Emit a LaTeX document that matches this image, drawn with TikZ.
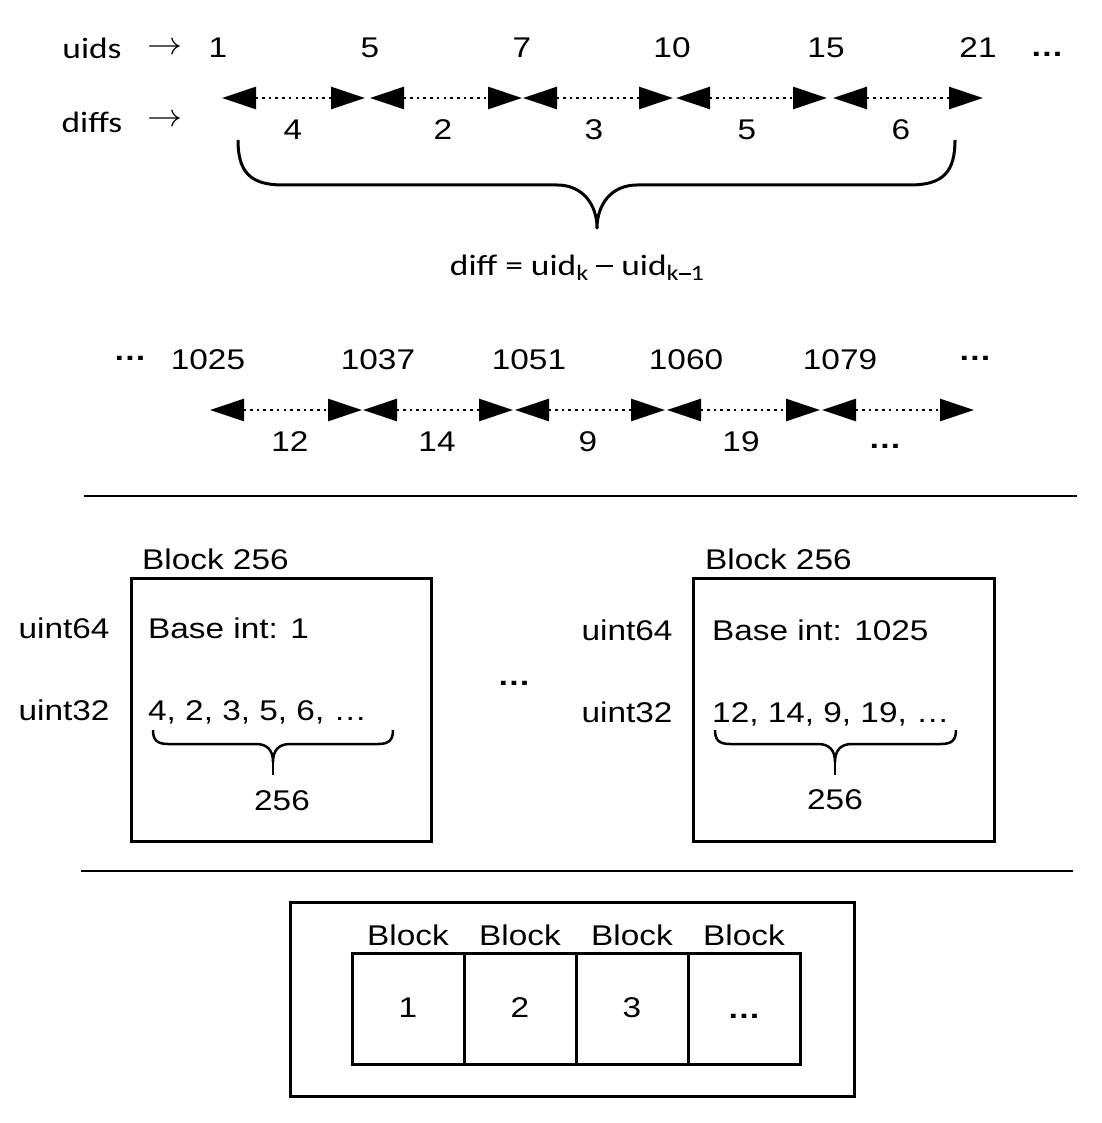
\documentclass[tikz,border=0pt]{standalone}
\usepackage{fontspec}
\setmainfont{Liberation Sans}[FakeStretch=1.17]
\newfontfamily\calfont{Carlito}[FakeStretch=1.2]
\usetikzlibrary{arrows.meta}
\newcommand\mysub[1]{\raisebox{-5pt}{\fontsize{22}{22}\selectfont #1}}
\newcommand\mydash{\rule[8pt]{17pt}{2.2pt}}
\newcommand\mysubdash{\rule[5.5pt]{12pt}{1.7pt}}
\begin{document}
\begin{tikzpicture}[x=1pt,y=-1pt,
  txt/.style={inner sep=0pt, anchor=base, font=\fontsize{28.5}{32}\selectfont},
  ltxt/.style={txt, anchor=base west},
  caltxt/.style={inner sep=0pt, anchor=base, font=\calfont\fontsize{29.5}{34}\selectfont},
  dotstxt/.style={inner sep=0pt, anchor=base, font=\bfseries\fontsize{28.5}{32}\selectfont},
  rarrow/.style={inner sep=0pt, anchor=center},
  tri/.tip={Triangle[length=34pt,width=22pt]},
  diffarrow/.style={line width=2.6pt, dash pattern=on 2.6pt off 4.1pt, tri-tri},
  box/.style={draw, line width=3pt, inner sep=0pt, rectangle},
  bigbrace/.style={line width=3pt, line join=round},
  smallbrace/.style={line width=2.5pt, line join=round},
  sepline/.style={line width=1.5pt}]
\useasboundingbox (0,0) rectangle (1101,1123);
\fill[white] (0,0) rectangle (1101,1123);

% ---------- row 1 ----------
\node[caltxt] (uids) at (92,59) {uids};
\node[rarrow] (uarr) at (165,49) {\scalebox{3.5}[3.2]{$\rightarrow$}};
\node[caltxt] (diffs) at (92,133) {diffs};
\node[rarrow] (darr) at (165,121) {\scalebox{3.5}[3.2]{$\rightarrow$}};

\node[txt] (u1) at (218,58) {1};
\node[txt] (u2) at (370,58) {5};
\node[txt] (u3) at (522,58) {7};
\node[txt] (u4) at (672,58) {10};
\node[txt] (u5) at (826,58) {15};
\node[txt] (u6) at (978,58) {21};
\node[dotstxt] (udots) at (1047,57) {…};

\coordinate (a1s) at (222,98); \coordinate (a1e) at (365,98);
\coordinate (a2s) at (370,98); \coordinate (a2e) at (522,98);
\coordinate (a3s) at (523,98); \coordinate (a3e) at (673,98);
\coordinate (a4s) at (676,98); \coordinate (a4e) at (827,98);
\coordinate (a5s) at (833,98); \coordinate (a5e) at (983,98);
\draw[diffarrow] (a1s) -- (a1e);
\draw[diffarrow] (a2s) -- (a2e);
\draw[diffarrow] (a3s) -- (a3e);
\draw[diffarrow] (a4s) -- (a4e);
\draw[diffarrow] (a5s) -- (a5e);

\node[txt] (d1) at (293,140) {4};
\node[txt] (d2) at (443,140) {2};
\node[txt] (d3) at (594,140) {3};
\node[txt] (d4) at (747,140) {5};
\node[txt] (d5) at (901,140) {6};

\draw[bigbrace] (238,140) .. controls (238,172) and (250,185) .. (283,185) -- (557,185)
  .. controls (583,185) and (597,205) .. (597,228)
  .. controls (597,205) and (611,185) .. (637,185) -- (910,185)
  .. controls (943,185) and (955,172) .. (955,140);

\node[caltxt] (formula) at (577,275) {diff = uid\mysub{k} \mydash{} uid\mysub{k\mysubdash 1}};

% ---------- row 2 ----------
\node[dotstxt] (ldots2) at (130,360) {…};
\node[txt] (v1) at (208,369) {1025};
\node[txt] (v2) at (378,369) {1037};
\node[txt] (v3) at (529,369) {1051};
\node[txt] (v4) at (686,369) {1060};
\node[txt] (v5) at (840,369) {1079};
\node[dotstxt] (rdots2) at (975,360) {…};

\coordinate (b1s) at (210,410); \coordinate (b1e) at (362,410);
\coordinate (b2s) at (363,410); \coordinate (b2e) at (513,410);
\coordinate (b3s) at (515,410); \coordinate (b3e) at (665,410);
\coordinate (b4s) at (667,410); \coordinate (b4e) at (820,410);
\coordinate (b5s) at (822,410); \coordinate (b5e) at (974,410);
\draw[diffarrow] (b1s) -- (b1e);
\draw[diffarrow] (b2s) -- (b2e);
\draw[diffarrow] (b3s) -- (b3e);
\draw[diffarrow] (b4s) -- (b4e);
\draw[diffarrow] (b5s) -- (b5e);

\node[txt] (e1) at (290,451) {12};
\node[txt] (e2) at (437,451) {14};
\node[txt] (e3) at (588,451) {9};
\node[txt] (e4) at (741,451) {19};
\node[dotstxt] (edots) at (885,448) {…};

\coordinate (s1a) at (84,496); \coordinate (s1b) at (1077,496);
\draw[sepline] (s1a) -- (s1b);

% ---------- blocks ----------
\node[box, minimum width=300pt, minimum height=263pt] (blkA) at (281,709.5) {};
\node[ltxt] (blkAt) at (142,569) {Block 256};
\node[ltxt] (baseA) at (148,638) {Base int: 1};
\node[ltxt] (listA) at (148,720) {4, 2, 3, 5, 6, …};
\node[txt] (cntA) at (282,810) {256};
\node[txt] (u64A) at (64,638) {uint64};
\node[txt] (u32A) at (64,720) {uint32};
\draw[smallbrace] (153,730) .. controls (153,740) and (157,744) .. (168,744) -- (256,744)
  .. controls (267,744) and (273,750) .. (273,762)
  .. controls (273,750) and (279,744) .. (290,744) -- (378,744)
  .. controls (389,744) and (393,740) .. (393,730);
\draw[smallbrace] (273,760) -- (273,775);

\node[dotstxt] (middots) at (514,685) {…};

\node[box, minimum width=301pt, minimum height=263pt] (blkB) at (843.5,709.5) {};
\node[ltxt] (blkBt) at (705,569) {Block 256};
\node[ltxt] (baseB) at (712,640) {Base int: 1025};
\node[ltxt] (listB) at (712,722) {12, 14, 9, 19, …};
\node[txt] (cntB) at (835,809) {256};
\node[txt] (u64B) at (627,640) {uint64};
\node[txt] (u32B) at (627,722) {uint32};
\draw[smallbrace] (715,730) .. controls (715,740) and (719,744) .. (730,744) -- (818,744)
  .. controls (829,744) and (835,750) .. (835,762)
  .. controls (835,750) and (841,744) .. (852,744) -- (941,744)
  .. controls (952,744) and (956,740) .. (956,730);
\draw[smallbrace] (835,760) -- (835,775);

\coordinate (s2a) at (81,871); \coordinate (s2b) at (1073,871);
\draw[sepline] (s2a) -- (s2b);

% ---------- bottom ----------
\node[box, minimum width=564pt, minimum height=194pt] (outer) at (572,999) {};
\node[box, minimum width=112pt, minimum height=111pt] (c1) at (408,1008.5) {};
\node[box, minimum width=112pt, minimum height=111pt] (c2) at (520,1008.5) {};
\node[box, minimum width=112pt, minimum height=111pt] (c3) at (632,1008.5) {};
\node[box, minimum width=112pt, minimum height=111pt] (c4) at (744,1008.5) {};
\node[txt] (l1) at (408,945) {Block};
\node[txt] (l2) at (520,945) {Block};
\node[txt] (l3) at (632,945) {Block};
\node[txt] (l4) at (744,945) {Block};
\node[txt] (n1) at (408,1017) {1};
\node[txt] (n2) at (520,1017) {2};
\node[txt] (n3) at (632,1017) {3};
\node[dotstxt] (n4) at (744,1018) {…};
\end{tikzpicture}
\end{document}
